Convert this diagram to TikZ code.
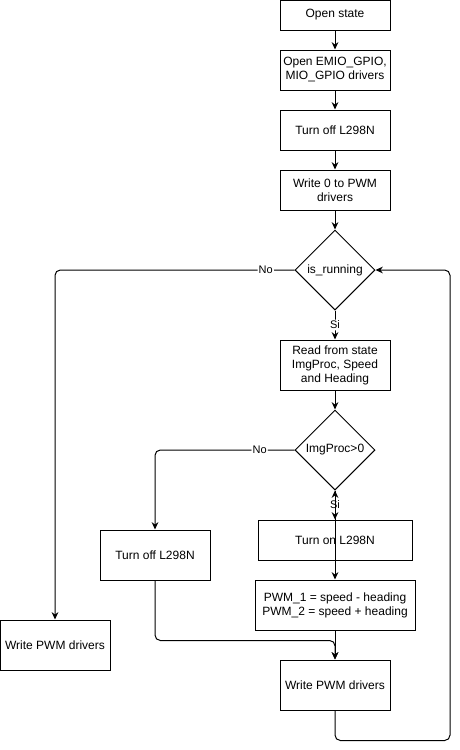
\documentclass[tikz,border=0pt]{standalone}
\usepackage{fontspec}
\setmainfont{Liberation Sans}
\usetikzlibrary{arrows.meta,positioning,shapes.geometric}
\tikzset{
  every picture/.style={line width=0.75pt, font=\fontsize{9}{10.5}\selectfont},
  box/.style={draw, fill=white, inner sep=2pt, minimum width=82.5pt, minimum height=30pt, align=center},
  thin/.style={box, minimum height=22.5pt},
  tall/.style={box, minimum height=37.5pt},
  choice/.style={draw, diamond, aspect=1, inner sep=0pt, minimum size=60pt, fill=white},
  flow/.style={-{Stealth[length=5.5pt,width=5pt]}, rounded corners=4pt},
  both/.style={{Stealth[length=5.5pt,width=5pt]}-{Stealth[length=5.5pt,width=5pt]}},
  lbl/.style={fill=white, inner sep=1pt, font=\fontsize{8.25}{9}\selectfont},
}

\begin{document}
\begin{tikzpicture}[x=0.75pt, y=-0.75pt]
  \useasboundingbox (0,0) rectangle (460,750);
  % main column
  \node[thin] (open) at (335,15) {Open state};
  \node[box] (drv) at (335,70) {Open EMIO\_GPIO,\\MIO\_GPIO drivers};
  \node[box] (off) at (335,130) {Turn off L298N};
  \node[box] (zero) at (335,190) {Write 0 to PWM\\drivers};
  \node[choice] (run) at (335,270) {is\_running};
  \node[tall] (read) at (335,365) {Read from state\\ImgProc, Speed\\and Heading};
  \node[choice] (img) at (335,450) {ImgProc\textgreater0};
  \node[box, minimum width=115.5pt] (on) at (335,540) {Turn on L298N};
  \node[tall, minimum width=120pt] (pwm) at (335,605) {PWM\_1 = speed - heading\\PWM\_2 = speed + heading};
  \node[tall] (writer) at (335,685) {Write PWM drivers};
  % side branches
  \node[tall] (offl) at (155,555) {Turn off L298N};
  \node[tall] (writel) at (55,645) {Write PWM drivers};

  \draw[flow] (open) -- (drv);
  \draw[flow] (drv) -- (off);
  \draw[flow] (off) -- (zero);
  \draw[flow] (zero) -- (run);
  \draw[flow] (run) -- node[lbl] {Si} (read);
  \draw[flow] (run.west) -| node[lbl, pos=0.06] {No} (writel.north);
  \draw[flow] (read) -- (img);
  \draw[flow] (img.west) -| node[lbl, pos=0.125] {No} (offl.north);
  \draw[flow] (img) -- node[lbl] {Si} (on);
  \draw[both] (img.south) -- (pwm.north);
  \draw[flow] (pwm) -- (writer);
  \draw[flow] (offl.south) -- ++(0,60) -| (writer.north);
  \draw[flow] (writer.south) -- ++(0,30) -- ++(115,0) |- (run.east);
\end{tikzpicture}
\end{document}
